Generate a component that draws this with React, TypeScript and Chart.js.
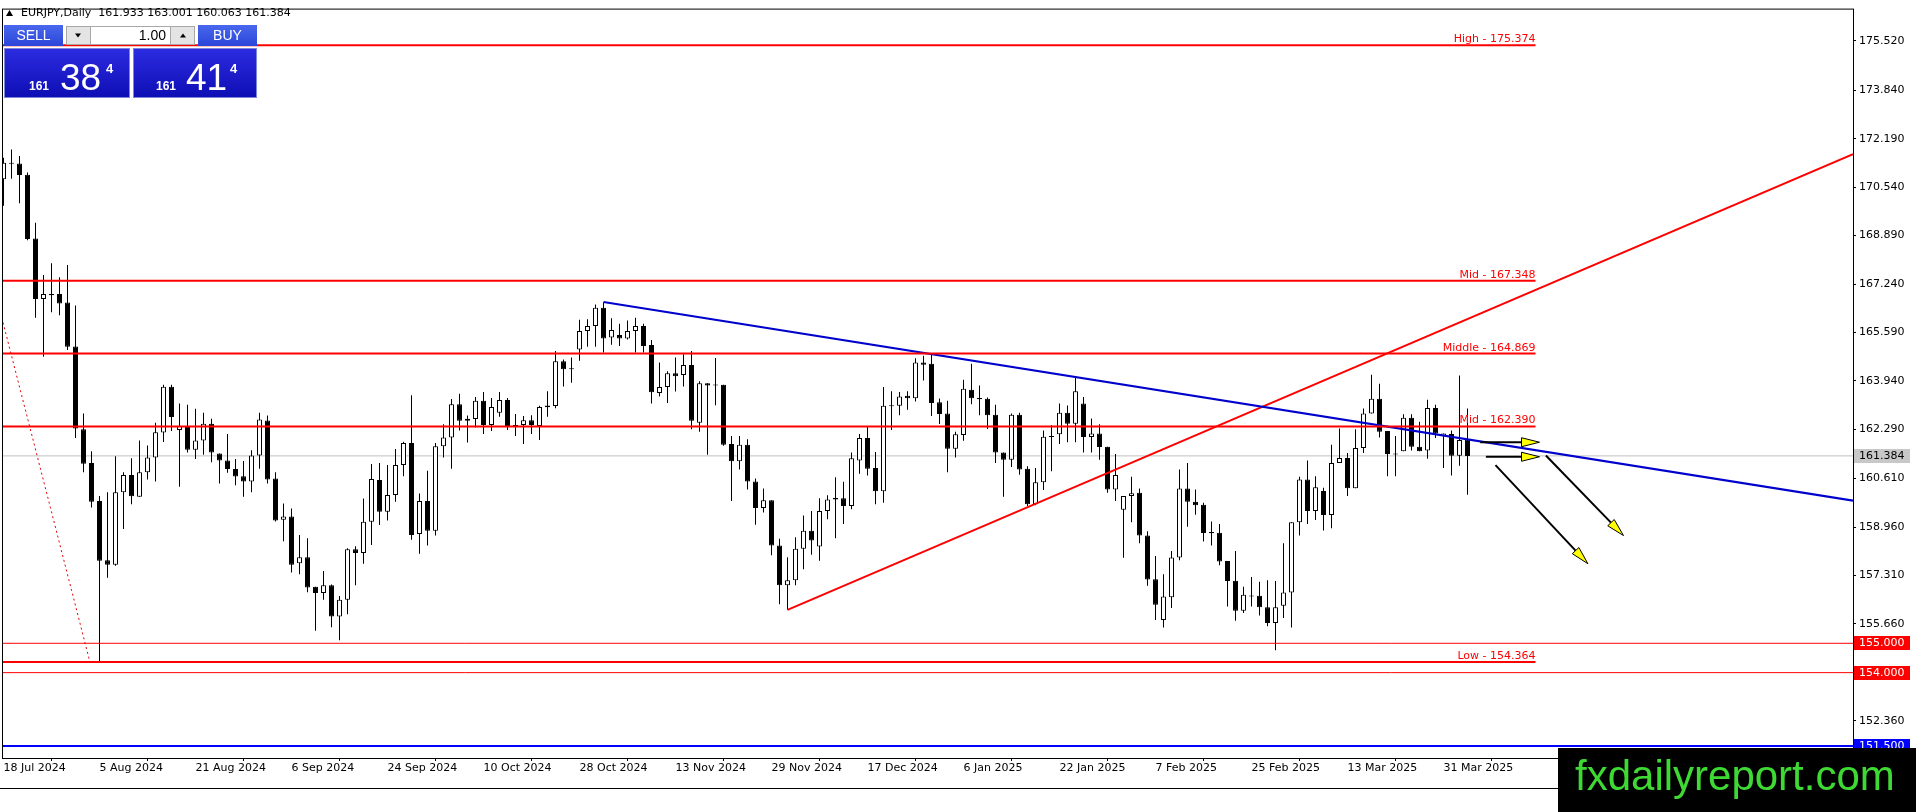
import { useEffect, useRef } from "react";
import { Chart, registerables } from "chart.js";

Chart.register(...registerables);

const W = 1916;
const H = 812;

// EURJPY daily candles, 18 Jul 2024 .. 3 Apr 2025, one per trading day
const opens = [
  170.81, 171.37, 171.35, 170.96, 168.79, 166.73, 166.9, 166.9, 166.61, 165.11,
  162.29, 161.14, 159.85, 157.83, 157.68, 160.15, 160.73, 159.99, 160.83, 161.33,
  162.18, 163.74, 162.27, 162.37, 161.59, 161.91, 162.48, 161.47, 161.23, 160.94,
  160.69, 160.51, 161.4, 162.59, 160.61, 159.21, 159.32, 157.73, 157.93, 156.93,
  156.71, 156.98, 155.91, 156.48, 158.2, 158.08, 159.14, 160.56, 159.48, 160.05,
  161.07, 161.82, 158.72, 159.85, 158.83, 161.71, 162.01, 163.14, 162.58, 162.64,
  163.26, 162.44, 162.85, 163.29, 162.44, 162.44, 162.6, 162.4, 163.1, 163.08,
  164.61, 164.36, 165.01, 165.64, 165.81, 166.43, 165.42, 165.5, 165.38, 165.64,
  165.81, 165.16, 163.53, 163.73, 164.2, 164.14, 164.48, 162.51, 163.86, 163.81,
  163.81, 161.79, 161.2, 161.76, 160.51, 159.61, 159.87, 158.33, 156.98, 157.15,
  158.22, 158.83, 158.3, 159.51, 159.9, 159.94, 159.68, 161.23, 161.99, 160.97,
  160.18, 163.08, 163.09, 163.43, 163.35, 164.57, 164.52, 163.21, 162.83, 161.63,
  162.1, 163.64, 163.36, 163.33, 162.79, 161.5, 161.25, 162.79, 160.95, 159.74,
  160.49, 162.06, 162.12, 162.85, 162.48, 163.17, 162.03, 162.15, 161.7, 160.24,
  159.55, 160.02, 160.13, 158.67, 157.18, 155.79, 156.57, 157.92, 160.27, 159.82,
  159.72, 158.78, 158.77, 157.8, 157.13, 156.11, 156.62, 156.62, 156.23, 155.69,
  156.28, 156.73, 159.12, 160.58, 159.51, 160.19, 159.37, 161.14, 161.31, 160.28,
  161.65, 162.83, 163.33, 162.23, 161.46, 161.54, 162.68, 161.7, 161.57, 163.02,
  162.06, 162.13, 161.39, 161.933,
];
const highs = [
  171.54, 171.82, 171.6, 171.04, 169.33, 167.55, 167.95, 167.47, 167.89, 166.51,
  162.83, 161.54, 160.02, 160.15, 161.37, 160.83, 161.3, 161.91, 161.74, 162.51,
  163.81, 163.81, 163.17, 163.13, 162.99, 162.85, 162.65, 161.47, 162.13, 161.28,
  161.21, 161.58, 162.85, 162.76, 160.83, 159.76, 159.59, 158.69, 158.58, 156.93,
  157.46, 157.0, 156.61, 158.24, 158.31, 159.93, 161.11, 161.14, 161.07, 161.62,
  161.87, 163.45, 160.1, 160.88, 161.82, 162.46, 163.32, 163.5, 162.76, 163.39,
  163.56, 163.36, 163.56, 163.36, 162.81, 162.74, 162.77, 163.09, 163.59, 164.96,
  164.67, 164.74, 166.02, 166.04, 166.54, 166.62, 166.07, 165.89, 166.0, 166.09,
  165.89, 165.33, 164.57, 164.27, 164.74, 164.85, 164.96, 163.93, 163.86, 164.72,
  163.81, 162.06, 162.06, 161.95, 160.61, 160.27, 159.87, 158.56, 157.93, 158.61,
  159.35, 159.51, 159.94, 160.04, 160.66, 160.5, 161.5, 162.13, 162.38, 161.52,
  163.73, 163.59, 163.56, 163.59, 164.71, 164.8, 164.85, 163.34, 163.26, 162.21,
  163.98, 164.52, 163.78, 163.37, 163.13, 161.5, 162.83, 162.85, 161.03, 160.97,
  162.25, 162.43, 163.17, 163.1, 164.07, 163.39, 162.66, 162.46, 161.7, 161.45,
  160.02, 160.67, 160.27, 158.82, 157.97, 157.35, 158.14, 160.92, 161.14, 160.24,
  159.79, 159.15, 159.06, 157.8, 158.14, 156.93, 157.26, 157.1, 157.15, 157.12,
  158.41, 159.12, 160.67, 161.23, 160.69, 160.3, 161.76, 162.32, 161.48, 162.29,
  163.0, 164.15, 163.84, 162.23, 162.06, 162.8, 162.8, 162.55, 163.3, 163.13,
  162.15, 162.25, 164.12, 163.001,
];
const lows = [
  169.91, 170.83, 169.99, 168.73, 166.09, 164.76, 166.28, 166.18, 164.99, 161.99,
  160.83, 159.63, 154.36, 157.23, 157.64, 158.89, 159.74, 159.99, 160.58, 160.51,
  161.86, 162.23, 160.33, 161.5, 161.28, 161.42, 161.17, 160.44, 160.81, 160.38,
  159.99, 160.15, 160.95, 160.44, 159.15, 158.48, 157.41, 157.35, 156.74, 155.43,
  156.48, 155.55, 155.1, 155.99, 156.98, 157.71, 158.35, 159.03, 159.18, 159.82,
  160.69, 158.53, 158.05, 158.33, 158.67, 161.33, 160.95, 162.25, 161.84, 162.35,
  162.13, 162.23, 162.72, 162.27, 162.06, 161.79, 162.13, 161.93, 162.72, 163.01,
  163.75, 163.88, 164.63, 165.1, 165.1, 164.91, 165.17, 165.13, 165.35, 164.91,
  164.91, 163.17, 163.41, 163.19, 163.58, 163.75, 162.29, 162.21, 161.42, 163.11,
  161.73, 159.85, 160.92, 160.24, 159.04, 159.46, 158.0, 156.33, 156.14, 156.98,
  157.52, 158.02, 157.81, 159.23, 158.58, 159.06, 159.57, 160.78, 160.72, 159.74,
  159.79, 162.27, 162.77, 162.96, 163.24, 163.95, 162.74, 162.47, 160.83, 161.33,
  161.9, 163.14, 162.77, 162.3, 161.14, 159.99, 161.01, 160.74, 159.68, 159.7,
  160.22, 160.86, 161.79, 161.85, 161.85, 161.5, 161.5, 161.25, 160.13, 159.85,
  157.91, 159.12, 158.41, 156.96, 155.79, 155.54, 156.2, 157.83, 158.97, 159.38,
  158.47, 158.33, 157.66, 156.25, 155.77, 156.03, 156.25, 155.95, 155.58, 154.76,
  155.86, 155.54, 158.67, 159.06, 159.2, 158.84, 158.92, 161.14, 160.02, 160.28,
  161.48, 162.83, 162.01, 160.69, 160.69, 161.54, 161.57, 161.54, 161.29, 161.99,
  160.97, 160.72, 161.05, 160.063,
];
const closes = [
  171.37, 171.34, 170.95, 168.77, 166.73, 166.9, 166.86, 166.58, 165.1, 162.32,
  161.12, 159.82, 157.81, 157.68, 160.15, 160.73, 160.01, 160.83, 161.33, 162.19,
  163.74, 162.71, 162.4, 161.59, 161.91, 162.48, 161.5, 161.23, 160.94, 160.68,
  160.51, 161.4, 162.62, 160.58, 159.18, 159.32, 157.68, 157.93, 156.9, 156.71,
  156.98, 155.91, 156.48, 158.2, 158.08, 159.14, 160.6, 159.48, 160.05, 161.07,
  161.82, 158.69, 159.85, 158.83, 161.71, 162.01, 163.14, 162.58, 162.65, 163.26,
  162.44, 163.05, 163.29, 162.4, 162.4, 162.6, 162.44, 163.05, 163.04, 164.61,
  164.34, 164.34, 165.64, 165.81, 166.43, 165.38, 165.67, 165.38, 165.64, 165.81,
  165.13, 163.55, 163.73, 164.2, 164.1, 164.48, 162.58, 163.86, 163.78, 163.79,
  161.76, 161.2, 161.76, 160.51, 159.61, 159.87, 158.33, 156.98, 157.15, 158.22,
  158.83, 158.5, 159.51, 159.9, 159.95, 159.68, 161.3, 161.99, 160.95, 160.18,
  163.09, 163.1, 163.41, 163.35, 164.57, 164.49, 163.19, 162.81, 161.63, 162.12,
  163.67, 163.35, 163.31, 162.77, 161.5, 161.25, 162.79, 160.92, 159.74, 160.49,
  162.04, 162.03, 162.85, 162.48, 163.59, 162.03, 162.15, 161.69, 160.24, 160.73,
  160.02, 160.11, 158.67, 157.17, 156.31, 156.59, 157.92, 160.27, 159.82, 159.7,
  158.76, 158.76, 157.79, 157.12, 156.11, 156.65, 156.6, 156.23, 155.69, 156.23,
  156.73, 159.12, 160.58, 159.51, 160.32, 159.37, 161.14, 161.31, 160.28, 161.65,
  162.83, 163.33, 162.21, 161.45, 161.44, 162.68, 161.7, 161.54, 163.02, 162.15,
  162.15, 161.39, 161.93, 161.384,
];

const dateTicks = [
  "18 Jul 2024", "5 Aug 2024", "21 Aug 2024", "6 Sep 2024", "24 Sep 2024",
  "10 Oct 2024", "28 Oct 2024", "13 Nov 2024", "29 Nov 2024", "17 Dec 2024",
  "6 Jan 2025", "22 Jan 2025", "7 Feb 2025", "25 Feb 2025", "13 Mar 2025", "31 Mar 2025",
];
const dateTickBars = [0, 12, 24, 36, 48, 60, 72, 84, 96, 108, 120, 132, 144, 156, 168, 180];

const priceTicks = [
  175.52, 173.84, 172.19, 170.54, 168.89, 167.24, 165.59, 163.94,
  162.29, 160.61, 158.96, 157.31, 155.66, 154.0, 152.36,
];

// labelled levels (segments ending at levelEnd)
const levelNames = ["High - 175.374", "Mid - 167.348", "Middle - 164.869", "Mid - 162.390", "Low - 154.364"];
const levelPrices = [175.374, 167.348, 164.869, 162.39, 154.364];
const levelEnd = 191.5;

// full width lines with a price box on the axis
const markPrices = [155.0, 154.0, 151.5];
const markColors = ["#ff0000", "#ff0000", "#0000ff"];
const markWidths = [1, 1, 2];
const bidPrice = 161.384;

// trend lines as [bar, price] end points
const blueTrend = [{ x: 75, y: 166.63 }, { x: 231.19, y: 159.86 }];
const redTrend = [{ x: 98, y: 156.14 }, { x: 231.19, y: 171.66 }];
const dottedTrend = [{ x: -0.06, y: 165.93 }, { x: 10.8, y: 154.364 }];

// arrows: [fromBar, fromPrice, toBar, toPrice]
const arrows = [
  [184.6, 161.85, 192.0, 161.85],
  [185.3, 161.355, 192.0, 161.355],
  [192.8, 161.4, 202.5, 158.67],
  [186.5, 161.07, 198.05, 157.71],
];

const xMin = -0.0625;
const xMax = 231.1875;
const yMax = 176.589;
const yMin = 151.092;

const FONT = "'DejaVu Sans', sans-serif";
const SANS = "'Liberation Sans', sans-serif";

function drawArrow(ctx: CanvasRenderingContext2D, x1: number, y1: number, x2: number, y2: number) {
  const ang = Math.atan2(y2 - y1, x2 - x1);
  const len = 18;
  const half = 4.5;
  const bx = x2 - Math.cos(ang) * len;
  const by = y2 - Math.sin(ang) * len;
  ctx.strokeStyle = "#000";
  ctx.lineWidth = 2;
  ctx.beginPath();
  ctx.moveTo(x1, y1);
  ctx.lineTo(bx, by);
  ctx.stroke();
  ctx.beginPath();
  ctx.moveTo(x2, y2);
  ctx.lineTo(bx - Math.sin(ang) * half, by + Math.cos(ang) * half);
  ctx.lineTo(bx + Math.sin(ang) * half, by - Math.cos(ang) * half);
  ctx.closePath();
  ctx.fillStyle = "#ffff00";
  ctx.fill();
  ctx.lineWidth = 1;
  ctx.stroke();
}

function drawPanel(ctx: CanvasRenderingContext2D) {
  // header
  ctx.fillStyle = "#000";
  ctx.beginPath();
  ctx.moveTo(6, 16);
  ctx.lineTo(13, 16);
  ctx.lineTo(9.5, 10);
  ctx.closePath();
  ctx.fill();
  ctx.font = `11px ${FONT}`;
  ctx.textAlign = "left";
  ctx.textBaseline = "middle";
  ctx.fillText(
    `EURJPY,Daily  ${opens[183].toFixed(3)} ${highs[183].toFixed(3)} ${lows[183].toFixed(3)} ${closes[183].toFixed(3)}`,
    21,
    13
  );

  const top = 25;
  const rowH = 21;
  const btn = (x: number, w: number, text: string) => {
    const g = ctx.createLinearGradient(0, top, 0, top + rowH);
    g.addColorStop(0, "#4a68ee");
    g.addColorStop(1, "#2a45d8");
    ctx.fillStyle = g;
    ctx.fillRect(x, top, w, rowH);
    ctx.fillStyle = "#fff";
    ctx.font = `14px ${SANS}`;
    ctx.textAlign = "center";
    ctx.textBaseline = "middle";
    ctx.fillText(text, x + w / 2, top + rowH / 2 + 0.5);
  };
  btn(4, 59, "SELL");
  btn(198, 59, "BUY");

  // lot spin box
  ctx.fillStyle = "#e4e4e4";
  ctx.fillRect(66, top + 1, 24, rowH - 2);
  ctx.fillRect(171, top + 1, 24, rowH - 2);
  ctx.fillStyle = "#fff";
  ctx.fillRect(90, top + 1, 81, rowH - 2);
  ctx.strokeStyle = "#a8a8a8";
  ctx.lineWidth = 1;
  ctx.strokeRect(66.5, top + 1.5, 128, rowH - 3);
  ctx.beginPath();
  ctx.moveTo(90.5, top + 1);
  ctx.lineTo(90.5, top + rowH - 1);
  ctx.moveTo(170.5, top + 1);
  ctx.lineTo(170.5, top + rowH - 1);
  ctx.stroke();
  const mid = top + rowH / 2;
  ctx.fillStyle = "#000";
  ctx.beginPath();
  ctx.moveTo(75, mid - 2);
  ctx.lineTo(81, mid - 2);
  ctx.lineTo(78, mid + 2);
  ctx.closePath();
  ctx.fill();
  ctx.beginPath();
  ctx.moveTo(180, mid + 2);
  ctx.lineTo(186, mid + 2);
  ctx.lineTo(183, mid - 2);
  ctx.closePath();
  ctx.fill();
  ctx.font = `14px ${SANS}`;
  ctx.textAlign = "right";
  ctx.fillText("1.00", 166, mid + 0.5);

  // price boxes
  const bTop = top + rowH + 2;
  const bH = 50;
  const base = bTop + 42;
  const box = (x: number, w: number, big: string, bigX: number, smallX: number, supX: number) => {
    const g = ctx.createLinearGradient(0, bTop, 0, bTop + bH);
    g.addColorStop(0, "#2c2ce2");
    g.addColorStop(1, "#0e0eb4");
    ctx.fillStyle = g;
    ctx.fillRect(x, bTop, w, bH);
    ctx.strokeStyle = "#7d86d8";
    ctx.strokeRect(x + 0.5, bTop + 0.5, w - 1, bH - 1);
    ctx.fillStyle = "#fff";
    ctx.textAlign = "left";
    ctx.textBaseline = "alphabetic";
    ctx.font = `bold 12px ${SANS}`;
    ctx.fillText("161", smallX, base);
    ctx.font = `37px ${SANS}`;
    ctx.fillText(big, bigX, base);
    ctx.font = `bold 13px ${SANS}`;
    ctx.fillText("4", supX, base - 17);
  };
  box(4, 126, "38", 60, 29, 106);
  box(133, 124, "41", 186, 156, 230);
}

export default function App() {
  const canvasRef = useRef<HTMLCanvasElement>(null);

  useEffect(() => {
    document.body.style.margin = "0";
    const canvas = canvasRef.current;
    if (!canvas) return;

    Chart.defaults.font.family = FONT;
    Chart.defaults.font.size = 11;

    const idx = opens.map((_, i) => i);
    const wickData = idx.map((i) => ({ x: i, y: [lows[i], highs[i]] }));
    const bodyData = idx.map((i) => {
      const lo = Math.min(opens[i], closes[i]);
      const hi = Math.max(opens[i], closes[i]);
      const pad = Math.max(0, 0.035 - (hi - lo)) / 2;
      return { x: i, y: [lo - pad, hi + pad] };
    });
    const bodyFill = idx.map((i) => (closes[i] >= opens[i] ? "#ffffff" : "#000000"));

    const lineDs = (data: { x: number; y: number }[], color: string, width: number, dash: number[] = []) => ({
      type: "line" as const,
      data,
      borderColor: color,
      borderWidth: width,
      borderDash: dash,
      pointRadius: 0,
      fill: false,
      order: 0,
    });

    const overlay = {
      id: "overlay",
      afterDatasetsDraw(chart: any) {
        const { ctx, scales } = chart;
        const xs = scales.x;
        const ys = scales.y;
        ctx.save();
        // level captions
        ctx.font = `11px ${FONT}`;
        ctx.fillStyle = "#ff0000";
        ctx.textAlign = "right";
        ctx.textBaseline = "alphabetic";
        levelNames.forEach((name, i) => {
          ctx.fillText(name, xs.getPixelForValue(levelEnd), ys.getPixelForValue(levelPrices[i]) - 3);
        });
        // arrows
        arrows.forEach(([b1, p1, b2, p2]) => {
          drawArrow(ctx, xs.getPixelForValue(b1), ys.getPixelForValue(p1), xs.getPixelForValue(b2), ys.getPixelForValue(p2));
        });
        // frame
        const a = chart.chartArea;
        ctx.strokeStyle = "#000";
        ctx.lineWidth = 1;
        ctx.strokeRect(a.left - 0.5, a.top - 0.5, a.right - a.left + 1, a.bottom - a.top + 1);
        ctx.restore();
      },
      afterDraw(chart: any) {
        const { ctx, scales, chartArea } = chart;
        const ys = scales.y;
        ctx.save();
        ctx.font = `11px ${FONT}`;
        ctx.textAlign = "left";
        ctx.textBaseline = "middle";
        const tag = (price: number, bg: string, fg: string) => {
          const y = Math.round(ys.getPixelForValue(price));
          ctx.fillStyle = bg;
          ctx.fillRect(chartArea.right + 1, y - 7, 56, 14);
          ctx.fillStyle = fg;
          ctx.fillText(price.toFixed(3), chartArea.right + 6, y + 0.5);
        };
        tag(bidPrice, "#c8c8c8", "#000");
        markPrices.forEach((p, i) => tag(p, markColors[i], "#fff"));

        drawPanel(ctx);

        // window bottom edge
        ctx.fillStyle = "#000";
        ctx.fillRect(0, 788, W, 1);

        // watermark
        ctx.fillStyle = "#000";
        ctx.fillRect(1558, 748, W - 1558, H - 748);
        ctx.fillStyle = "#3fd934";
        ctx.font = `42px ${SANS}`;
        ctx.textAlign = "left";
        ctx.textBaseline = "alphabetic";
        ctx.fillText("fxdailyreport.com", 1575, 790);
        ctx.restore();
      },
    };

    const chart = new Chart(canvas, {
      type: "bar",
      data: {
        datasets: [
          ...levelPrices.map((p) => lineDs([{ x: xMin, y: p }, { x: levelEnd, y: p }], "#ff0000", 2)),
          ...markPrices.map((p, i) =>
            lineDs([{ x: xMin, y: p }, { x: xMax, y: p }], markColors[i], markWidths[i])
          ),
          { ...lineDs([{ x: xMin, y: bidPrice }, { x: xMax, y: bidPrice }], "#c0c0c0", 1), order: 4 },
          lineDs(blueTrend, "#0000cc", 2),
          lineDs(redTrend, "#ff0000", 2),
          lineDs(dottedTrend, "#e00000", 1, [2, 3]),
          {
            type: "bar" as const,
            data: wickData as any,
            backgroundColor: "#000",
            borderWidth: 0,
            barThickness: 1,
            grouped: false,
            inflateAmount: 0,
            order: 3,
          },
          {
            type: "bar" as const,
            data: bodyData as any,
            backgroundColor: bodyFill,
            borderColor: "#000",
            borderWidth: 1,
            borderSkipped: false,
            barThickness: 5,
            grouped: false,
            inflateAmount: 0,
            order: 2,
          },
        ] as any,
      },
      options: {
        responsive: false,
        animation: false,
        devicePixelRatio: 1,
        events: [],
        layout: { padding: { left: 3, top: 2, right: 0, bottom: 0 } },
        plugins: { legend: { display: false }, tooltip: { enabled: false } },
        scales: {
          x: {
            type: "linear",
            min: xMin,
            max: xMax,
            offset: false,
            afterFit: (s: any) => {
              s.height = H - 758;
            },
            afterBuildTicks: (s: any) => {
              s.ticks = dateTickBars.map((v) => ({ value: v }));
            },
            ticks: {
              autoSkip: false,
              maxRotation: 0,
              minRotation: 0,
              align: "start",
              padding: 1,
              color: "#000",
              font: { family: FONT, size: 11 },
              callback: (_v: any, i: number) => dateTicks[i] ?? "",
            },
            grid: { drawOnChartArea: false, drawTicks: true, tickLength: 3, color: "#000" },
            border: { display: true, color: "#000" },
          },
          y: {
            type: "linear",
            position: "right",
            min: yMin,
            max: yMax,
            afterFit: (s: any) => {
              s.width = W - 1853;
            },
            afterBuildTicks: (s: any) => {
              s.ticks = priceTicks.map((v) => ({ value: v }));
            },
            ticks: {
              padding: 3,
              color: "#000",
              font: { family: FONT, size: 11 },
              callback: (v: any) => Number(v).toFixed(3),
            },
            grid: { drawOnChartArea: false, drawTicks: true, tickLength: 3, color: "#000" },
            border: { display: true, color: "#000" },
          },
        },
      } as any,
      plugins: [overlay],
    });

    return () => chart.destroy();
  }, []);

  return (
    <div style={{ width: W, height: H, background: "#fff" }}>
      <canvas ref={canvasRef} width={W} height={H} style={{ display: "block", width: W, height: H }} />
    </div>
  );
}
